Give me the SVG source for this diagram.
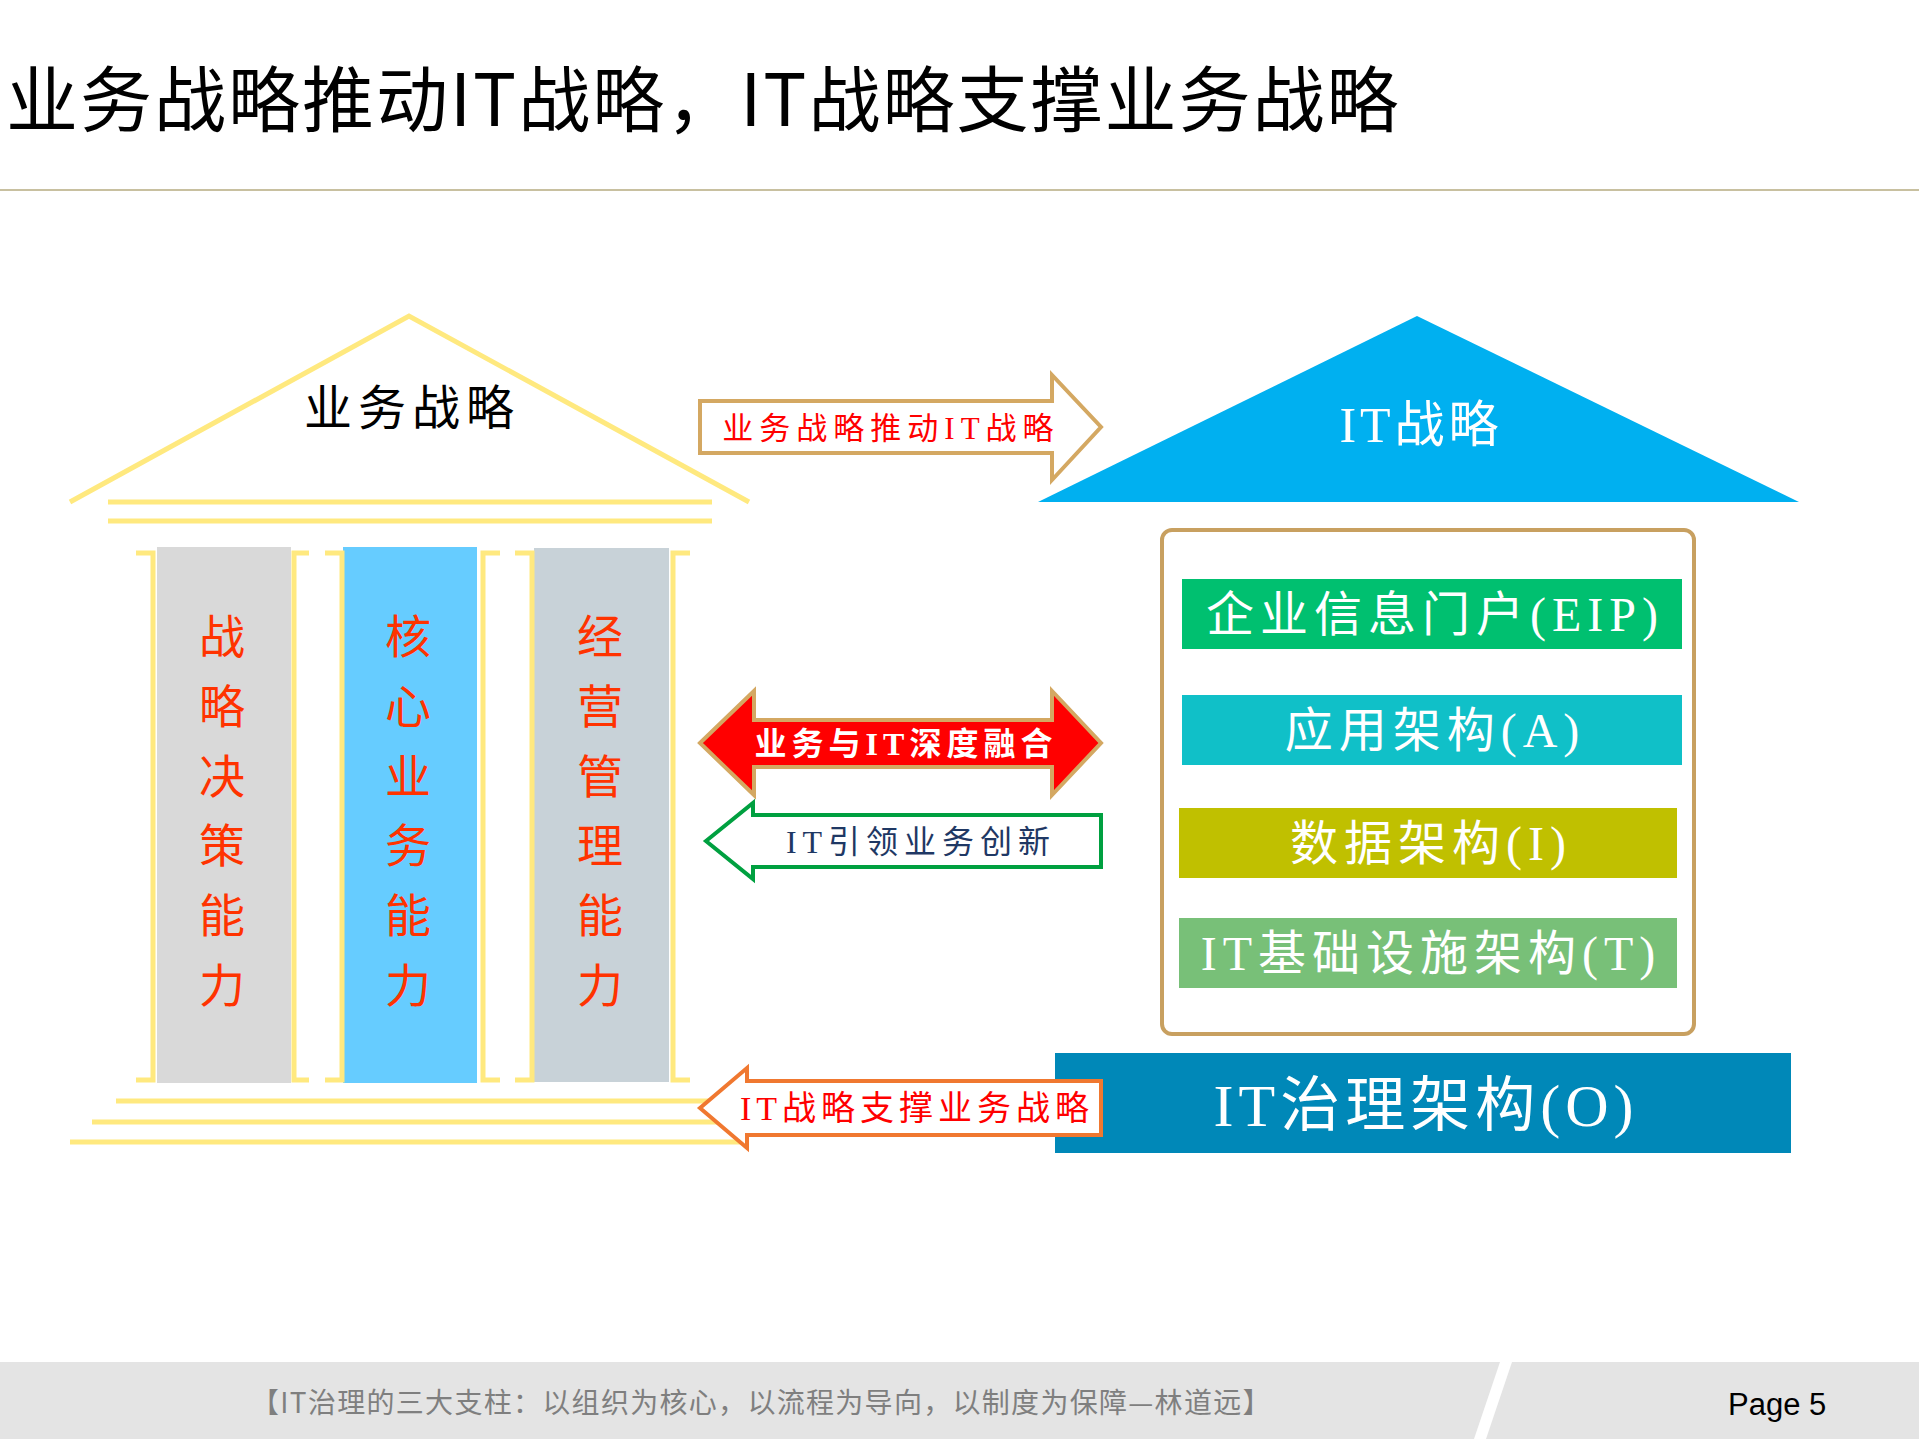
<svg xmlns="http://www.w3.org/2000/svg" width="1919" height="1439" viewBox="0 0 1919 1439">
<style>
.cj{font-family:"Noto Sans CJK SC","Liberation Serif",serif}
.sf{font-family:"Liberation Serif","Noto Sans CJK SC",serif}
.y{stroke:#ffe97f;stroke-width:5;fill:none}
.pt{font-size:46px;fill:#ff3300;text-anchor:middle}
.bar{font-size:48px;fill:#fff;text-anchor:middle;letter-spacing:6px}
</style>
<rect width="1919" height="1439" fill="#fff"/>
<text x="6" y="126" class="cj" font-size="72" fill="#000" letter-spacing="2">业务战略推动IT战略，IT战略支撑业务战略</text>
<line x1="0" y1="190" x2="1919" y2="190" stroke="#c8c0a0" stroke-width="2"/>

<g id="biz-roof">
<polyline class="y" points="70,502 409,316 749,502"/>
<line class="y" x1="108" y1="502" x2="712" y2="502"/>
<line class="y" x1="108" y1="521" x2="712" y2="521"/>
<text x="412" y="425" class="sf" font-size="48" fill="#000" text-anchor="middle" letter-spacing="6">业务战略</text>
</g>
<g id="pillar1">
<rect x="157" y="547" width="134" height="536" fill="#d9d9d9"/>
<path class="y" d="M136,553H153V1080H136M309,553H294V1080H309"/>
<g class="sf pt"><text x="222" y="653">战</text><text x="222" y="723">略</text><text x="222" y="793">决</text><text x="222" y="862">策</text><text x="222" y="932">能</text><text x="222" y="1002">力</text></g>
</g>
<g id="pillar2">
<rect x="343" y="547" width="134" height="536" fill="#66ccff"/>
<path class="y" d="M325,553H342V1080H325M500,553H483V1080H500"/>
<g class="sf pt"><text x="408" y="653">核</text><text x="408" y="723">心</text><text x="408" y="793">业</text><text x="408" y="862">务</text><text x="408" y="932">能</text><text x="408" y="1002">力</text></g>
</g>
<g id="pillar3">
<rect x="534" y="548" width="135" height="534" fill="#c8d2d8"/>
<path class="y" d="M515,553H532V1080H515M690,553H673V1080H690"/>
<g class="sf pt"><text x="600" y="653">经</text><text x="600" y="723">营</text><text x="600" y="793">管</text><text x="600" y="862">理</text><text x="600" y="932">能</text><text x="600" y="1002">力</text></g>
</g>
<g id="biz-base">
<line class="y" x1="116" y1="1101" x2="734" y2="1101"/>
<line class="y" x1="92" y1="1122" x2="734" y2="1122"/>
<line class="y" x1="70" y1="1142" x2="747" y2="1142"/>
</g>

<g id="it-roof">
<polygon points="1038,502 1417,316 1799,502" fill="#00b0f0"/>
<text x="1421" y="442" class="sf" font-size="50" fill="#fff" text-anchor="middle" letter-spacing="4">IT战略</text>
</g>
<g id="it-box">
<rect x="1162" y="530" width="532" height="504" rx="10" fill="#fff" stroke="#c8a060" stroke-width="4"/>
</g>
<g id="eip"><rect x="1182" y="579" width="500" height="70" fill="#00c070"/><text x="1435" y="631" class="sf bar">企业信息门户(EIP)</text></g>
<g id="app"><rect x="1182" y="695" width="500" height="70" fill="#10c0c8"/><text x="1435" y="747" class="sf bar" letter-spacing="9">应用架构(A)</text></g>
<g id="data"><rect x="1179" y="808" width="498" height="70" fill="#c0c000"/><text x="1431" y="860" class="sf bar">数据架构(I)</text></g>
<g id="infra"><rect x="1179" y="918" width="498" height="70" fill="#78c078"/><text x="1431" y="970" class="sf bar" letter-spacing="4">IT基础设施架构(T)</text></g>
<g id="gov"><rect x="1055" y="1053" width="736" height="100" fill="#0088b8"/><text x="1426" y="1126" class="sf" font-size="60" fill="#fff" text-anchor="middle" letter-spacing="5">IT治理架构(O)</text></g>

<g id="connectors">
<g id="a1"><polygon points="700,401 1052,401 1052,375 1101,427 1052,480 1052,453 700,453" fill="#fff" stroke="#d4a862" stroke-width="4"/>
<text x="891" y="439" class="sf" font-size="31" fill="#ff0000" text-anchor="middle" letter-spacing="6">业务战略推动IT战略</text></g>
<g id="a2"><polygon points="700,743 754,691 754,720 1052,720 1052,691 1101,743 1052,795 1052,767 754,767 754,795" fill="#ff0000" stroke="#d4a862" stroke-width="4"/>
<text x="906" y="755" class="sf" font-size="32" font-weight="bold" fill="#fff" text-anchor="middle" letter-spacing="5">业务与IT深度融合</text></g>
<g id="a3"><polygon points="706,841 753,803 753,815 1101,815 1101,867 753,867 753,879" fill="#fff" stroke="#00a040" stroke-width="4"/>
<text x="921" y="853" class="sf" font-size="32" fill="#1f3864" text-anchor="middle" letter-spacing="6">IT引领业务创新</text></g>
<g id="a4"><polygon points="700,1108 747,1068 747,1081 1101,1081 1101,1135 747,1135 747,1148" fill="#fff" stroke="#f07830" stroke-width="4"/>
<text x="917" y="1120" class="sf" font-size="34" fill="#ff0000" text-anchor="middle" letter-spacing="5">IT战略支撑业务战略</text></g>
</g>

<g id="footer">
<rect x="0" y="1362" width="1919" height="77" fill="#e4e4e4"/>
<polygon points="1500,1362 1512,1362 1486,1439 1474,1439" fill="#fff"/>
<text x="251" y="1413" class="cj" font-size="28" fill="#7f7f7f" letter-spacing="1.3">【IT治理的三大支柱：以组织为核心，以流程为导向，以制度为保障—林道远】</text>
<text x="1728" y="1415" font-family="Liberation Sans, sans-serif" font-size="31" fill="#000">Page 5</text>
</g>
</svg>
